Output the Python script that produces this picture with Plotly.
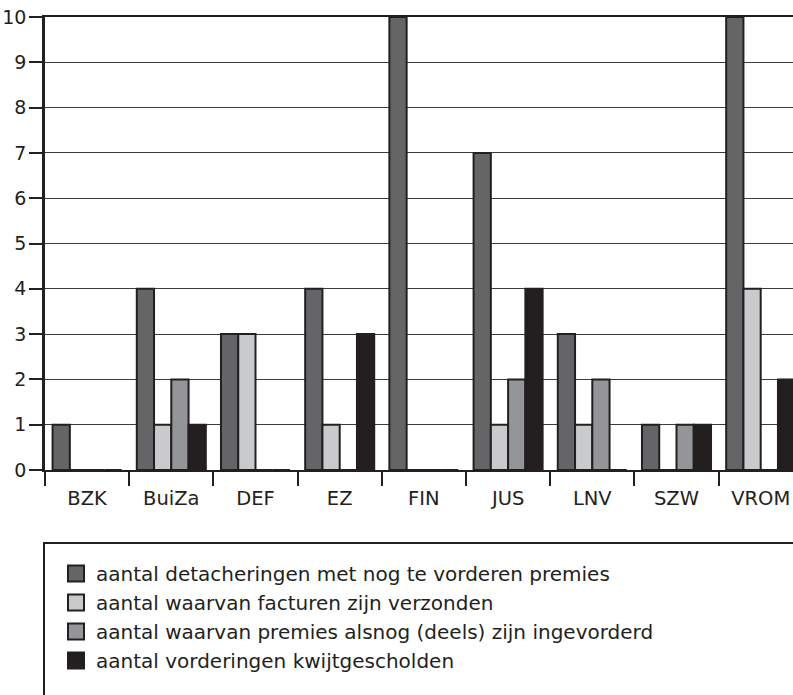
import plotly.graph_objects as go

categories = ["BZK", "BuiZa", "DEF", "EZ", "FIN", "JUS", "LNV", "SZW", "VROM"]
series_names = [
    "aantal detacheringen met nog te vorderen premies",
    "aantal waarvan facturen zijn verzonden",
    "aantal waarvan premies alsnog (deels) zijn ingevorderd",
    "aantal vorderingen kwijtgescholden",
]
detacheringen = [1, 4, 3, 4, 10, 7, 3, 1, 10]
facturen = [0, 1, 3, 1, 0, 1, 1, 0, 4]
ingevorderd = [0, 2, 0, 0, 0, 2, 2, 1, 0]
kwijtgescholden = [0, 1, 0, 3, 0, 4, 0, 1, 2]
y_ticks = [0, 1, 2, 3, 4, 5, 6, 7, 8, 9, 10]

series_values = [detacheringen, facturen, ingevorderd, kwijtgescholden]
colors = ["#646567", "#c9cacc", "#939598", "#231f20"]
ink = "#231f20"
font_family = "DejaVu Sans"

fig = go.Figure()
for name, vals, col in zip(series_names, series_values, colors):
    fig.add_trace(go.Bar(
        x=categories, y=vals, name=name, showlegend=False,
        marker=dict(color=col, line=dict(color=ink, width=2)),
    ))
# legend proxies (larger square swatches)
for name, col in zip(series_names, colors):
    fig.add_trace(go.Scatter(
        x=[None], y=[None], mode="markers", name=name,
        marker=dict(symbol="square", size=16, color=col,
                    line=dict(color=ink, width=2)),
    ))

W, H = 793, 695
ml = 45
mt = 17
mb = H - 470
plot_w = W - ml
plot_h = H - mt - mb
px_per_cat = 84.2
x_max = -0.5 + plot_w / px_per_cat

def px_to_paper_x(px):
    return (px - ml) / plot_w

def px_to_paper_y(py):
    return (H - mb - py) / plot_h

fig.update_layout(
    width=W, height=H,
    margin=dict(l=ml, r=0, t=mt, b=mb, autoexpand=False),
    paper_bgcolor="white", plot_bgcolor="white",
    barmode="group", bargap=0.18, bargroupgap=0,
    font=dict(family=font_family, size=19, color=ink),
    showlegend=True,
    legend=dict(
        x=px_to_paper_x(56), y=px_to_paper_y(554),
        xanchor="left", yanchor="top",
        font=dict(family=font_family, size=20, color=ink),
        bgcolor="rgba(0,0,0,0)", borderwidth=0,
        itemsizing="trace",
    ),
    xaxis=dict(
        type="category", range=[-0.5, x_max],
        showline=True, linecolor=ink, linewidth=2, mirror=True,
        ticks="outside", tickson="boundaries", ticklen=14, tickwidth=1.5,
        tickcolor=ink, showgrid=False, automargin=False,
        ticklabelstandoff=10, ticklabeloverflow="allow",
        tickfont=dict(family=font_family, size=19.5, color=ink),
        fixedrange=True,
    ),
    yaxis=dict(
        range=[0, 10], tickvals=y_ticks,
        showline=True, linecolor=ink, linewidth=2.5,
        ticks="outside", ticklen=13, tickwidth=1.5, tickcolor=ink,
        showgrid=True, gridcolor="#3c3c3c", gridwidth=1.3,
        zeroline=False, automargin=False,
        ticklabeloverflow="allow", ticklabelstandoff=-1,
        tickfont=dict(family=font_family, size=19, color=ink),
        fixedrange=True,
    ),
    shapes=[dict(
        type="rect", xref="paper", yref="paper",
        x0=px_to_paper_x(44), x1=px_to_paper_x(810),
        y0=px_to_paper_y(543), y1=px_to_paper_y(710),
        line=dict(color=ink, width=2), fillcolor="rgba(0,0,0,0)",
        layer="above",
    )],
)

fig.write_html(
    "out.html",
    config={"displayModeBar": False},
    post_script="document.body.style.margin='0';document.body.style.overflow='hidden';",
)
